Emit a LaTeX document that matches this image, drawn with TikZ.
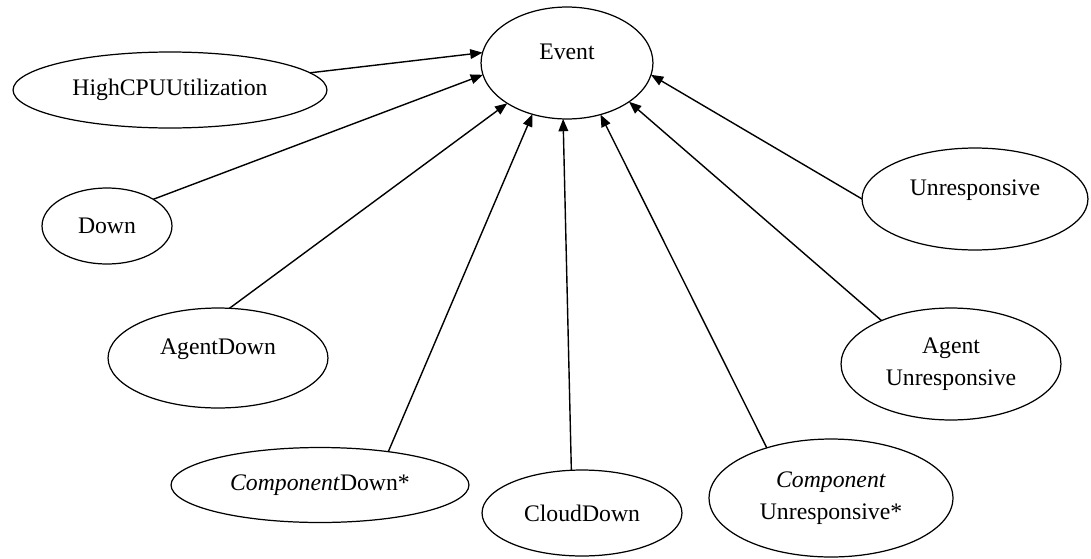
\documentclass[tikz,border=0pt]{standalone}
\usepackage{fontspec}
\setmainfont{Liberation Serif}
\usetikzlibrary{shapes.geometric,arrows.meta}
\begin{document}
\begin{tikzpicture}[x=0.02cm,y=-0.02cm,
    font=\fontsize{13.5}{18.5}\selectfont,
    oval/.style 2 args={ellipse,draw,line width=0.7pt,inner sep=0pt,outer sep=0pt,
      minimum width=#1*0.04cm,minimum height=#2*0.04cm,align=center},
    lift/.style={text height=9pt,text depth=#1}]
      \useasboundingbox (0,0) rectangle (1091,558);
      \draw
        (567,63) node[oval={86}{56},lift=13pt] (event){Event}
        (170,90) node[oval={157}{38}] (highcpu){HighCPUUtilization}
        (107,226) node[oval={65}{38}] (down){Down}
        (218,358) node[oval={110}{50},lift=13pt] (agentdown){AgentDown}
        (320,485) node[oval={149}{37.5}] (compdown){\textit{Component}Down*}
        (582,513) node[oval={100}{43}] (clouddown){CloudDown}
        (831,498) node[oval={122}{59}] (compunresp){\textit{Component}\\Unresponsive*}
        (951,364) node[oval={110}{56}] (agentunresp){Agent\\Unresponsive}
        (975,199) node[oval={113}{51},lift=13pt] (unresp){Unresponsive};
      \begin{scope}[-{Triangle[length=7pt,width=5.5pt]},line width=0.8pt]
        \draw (highcpu.7) to (event.173);
        \draw (down.30) to (event.188);
        \draw (agentdown.77) to (event.214);
        \draw (compdown.26) to (event.236);
        \draw (clouddown.104) to (event.266);
        \draw (compunresp.142) to (event.303);
        \draw (agentunresp.148) to (event.328);
        \draw (unresp.180) to (event.352);
      \end{scope}
    \end{tikzpicture}
\end{document}
